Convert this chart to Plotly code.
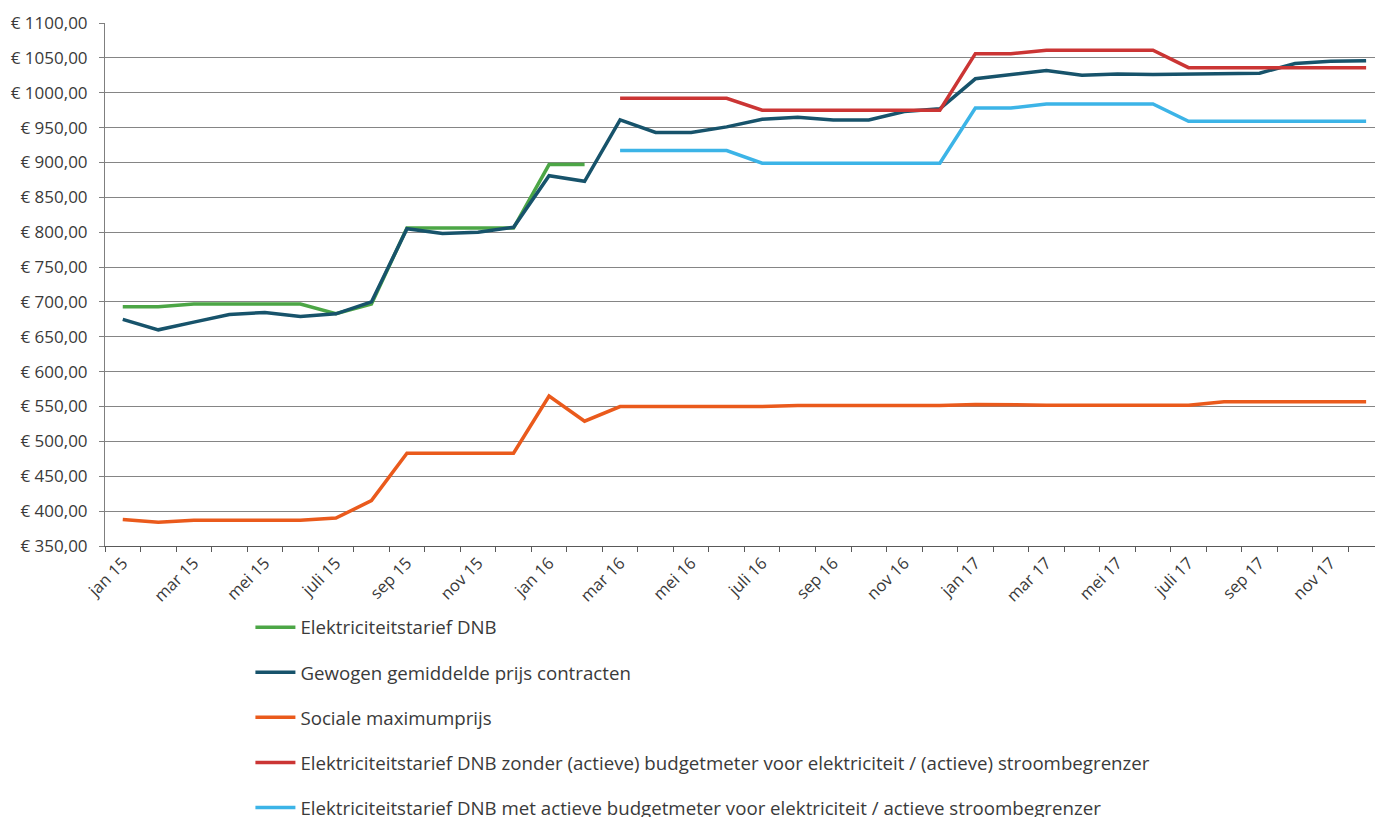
import plotly.graph_objects as go

# Month labels (Dutch), January 2015 - December 2017
months = [
    "jan 15", "feb 15", "mar 15", "apr 15", "mei 15", "juni 15",
    "juli 15", "aug 15", "sep 15", "okt 15", "nov 15", "dec 15",
    "jan 16", "feb 16", "mar 16", "apr 16", "mei 16", "juni 16",
    "juli 16", "aug 16", "sep 16", "okt 16", "nov 16", "dec 16",
    "jan 17", "feb 17", "mar 17", "apr 17", "mei 17", "juni 17",
    "juli 17", "aug 17", "sep 17", "okt 17", "nov 17", "dec 17",
]

# Yearly cost in euro per series (None = no value for that month)
dnb_tarief = [
    693, 693, 697, 697, 697, 697, 683, 697, 806, 806, 806, 806,
    897, 897,
] + [None] * 22

gewogen_gemiddelde = [
    675, 660, 671, 682, 685, 679, 683, 700, 805, 798, 800, 807,
    881, 873, 961, 943, 943, 951, 962, 965, 961, 961, 973, 977,
    1020, 1026, 1032, 1025, 1027, 1026, 1027, 1027, 1028, 1042, 1045, 1046,
]

sociale_maximumprijs = [
    388, 384, 387, 387, 387, 387, 390, 415, 483, 483, 483, 483,
    565, 529, 550, 550, 550, 550, 550, 551.5, 551.5, 551.5, 551.5, 551.5,
    553, 552, 552, 552, 552, 552, 552, 557, 557, 557, 557, 557,
]

dnb_zonder_budgetmeter = [None] * 14 + [
    992, 992, 992, 992, 975, 975, 975, 975, 975, 975,
    1056, 1056, 1061, 1061, 1061, 1061, 1036, 1036, 1036, 1036, 1036, 1036,
]

dnb_met_budgetmeter = [None] * 14 + [
    917, 917, 917, 917, 899, 899, 899, 899, 899, 899,
    978, 978, 984, 984, 984, 984, 959, 959, 959, 959, 959, 959,
]

series_names = [
    "Elektriciteitstarief DNB",
    "Gewogen gemiddelde prijs contracten",
    "Sociale maximumprijs",
    "Elektriciteitstarief DNB zonder (actieve) budgetmeter voor elektriciteit / (actieve) stroombegrenzer",
    "Elektriciteitstarief DNB met actieve budgetmeter voor elektriciteit / actieve stroombegrenzer",
]
series_values = [
    dnb_tarief,
    gewogen_gemiddelde,
    sociale_maximumprijs,
    dnb_zonder_budgetmeter,
    dnb_met_budgetmeter,
]
series_colors = ["#4CA646", "#17536B", "#EA5A1C", "#CB3534", "#3CB4E7"]

y_ticks = list(range(350, 1101, 50))
y_ticktext = [f"€ {v},00" for v in y_ticks]

FONT = "Open Sans"
TEXT = "#3a3a3a"

x_idx = list(range(len(months)))

fig = go.Figure()
for i, (name, vals, col) in enumerate(zip(series_names, series_values, series_colors)):
    fig.add_trace(go.Scatter(
        x=x_idx, y=vals, name=name, mode="lines",
        line=dict(color=col, width=3.5),
        connectgaps=False,
        legendgroup=f"g{i}",
    ))

fig.update_layout(
    width=1375, height=817,
    margin=dict(l=105, r=0, t=23, b=271, autoexpand=False),
    paper_bgcolor="white", plot_bgcolor="white",
    font=dict(family=FONT, size=17, color=TEXT),
    showlegend=True,
    legend=dict(
        orientation="v", x=0.1145, xanchor="left", y=-0.1195, yanchor="top",
        font=dict(family=FONT, size=18.7, color=TEXT),
        tracegroupgap=17.8, itemwidth=40,
        bgcolor="rgba(0,0,0,0)",
    ),
    xaxis=dict(
        range=[-0.5, 35.25],
        tickmode="array", tickvals=x_idx[::2], ticktext=months[::2],
        tickangle=-45, ticks="",
        tickfont=dict(family=FONT, size=16.5, color=TEXT),
        showgrid=False, zeroline=False,
        showline=True, linecolor="#595959", linewidth=1,
        minor=dict(ticks="outside", ticklen=5, tickcolor="#595959",
                   tick0=-0.5, dtick=1, showgrid=False),
    ),
    yaxis=dict(
        range=[350, 1100],
        tickmode="array", tickvals=y_ticks, ticktext=y_ticktext,
        ticks="outside", ticklen=5, tickcolor="#7f7f7f",
        tickfont=dict(family=FONT, size=17, color=TEXT),
        ticklabelstandoff=8,
        showgrid=True, gridcolor="#858585", gridwidth=1,
        zeroline=False,
        showline=True, linecolor="#7f7f7f", linewidth=1,
    ),
)

fig.write_html("out.html")
